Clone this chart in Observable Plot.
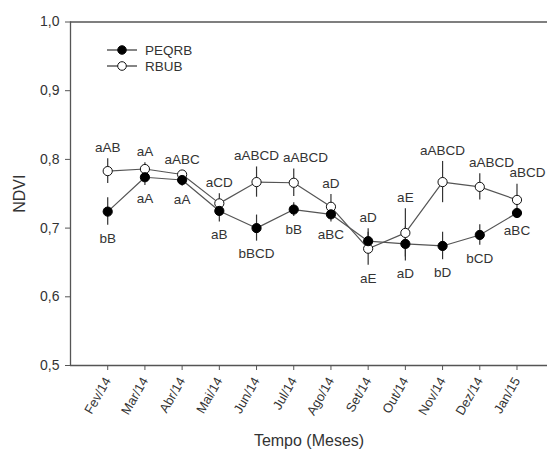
<!DOCTYPE html>
<html>
<head>
<meta charset="utf-8">
<script src="https://cdn.jsdelivr.net/npm/d3@7"></script>
<script src="https://cdn.jsdelivr.net/npm/@observablehq/plot@0.6"></script>
<style>
  body { margin: 0; background: #fff; }
  #wrap { position: relative; width: 547px; height: 450px; font-family: "Liberation Sans", Arial, sans-serif; }
  #legend { position: absolute; left: 0; top: 0; }
</style>
</head>
<body>
<div id="wrap"></div>
<script>
const months = ["Fev/14","Mar/14","Abr/14","Mai/14","Jun/14","Jul/14","Ago/14","Set/14","Out/14","Nov/14","Dez/14","Jan/15"];
const seriesNames = ["PEQRB", "RBUB"];
const peqrb    = [0.724, 0.774, 0.770, 0.725, 0.700, 0.727, 0.720, 0.681, 0.677, 0.674, 0.690, 0.722];
const peqrbErr = [0.020, 0.012, 0.009, 0.016, 0.019, 0.010, 0.011, 0.018, 0.025, 0.020, 0.015, 0.007];
const rbub     = [0.783, 0.786, 0.778, 0.736, 0.767, 0.766, 0.731, 0.670, 0.693, 0.767, 0.760, 0.741];
const rbubErr  = [0.018, 0.009, 0.006, 0.014, 0.022, 0.020, 0.018, 0.024, 0.035, 0.030, 0.019, 0.023];
const peqrbLetters = ["bB","aA","aA","aB","bBCD","bB","aBC","aD","aD","bD","bCD","aBC"];
const rbubLetters  = ["aAB","aA","aABC","aCD","aABCD","aABCD","aD","aE","aE","aABCD","aABCD","aBCD"];
const yTicks = [0.5, 0.6, 0.7, 0.8, 0.9, 1.0];

const FONT = "'Liberation Sans', Arial, sans-serif";
const W = 547, H = 450, ML = 70, MR = 0, MT = 21.5, MB = 85;
const xDomain = [0, 12.82], yDomain = [0.5, 1.0];
const LABEL_SIZE = 13.5, ABOVE_DY = -11, BELOW_DY = 13;

const rowsP = months.map((m, i) => ({x: i + 1, y: peqrb[i], e: peqrbErr[i], t: peqrbLetters[i], above: peqrb[i] > rbub[i]}));
const rowsR = months.map((m, i) => ({x: i + 1, y: rbub[i], e: rbubErr[i], t: rbubLetters[i], above: rbub[i] >= peqrb[i]}));

// letter labels: placed beyond the error bar end, nudged right if they would collide with the previous label
const xs = d3.scaleLinear(xDomain, [ML, W - MR]);
const ys = d3.scaleLinear(yDomain, [H - MB, MT]);
const ctx = document.createElement("canvas").getContext("2d");
ctx.font = `${LABEL_SIZE}px ${FONT}`;
const labels = rowsP.concat(rowsR)
  .map(d => ({x: d.x, y: d.above ? d.y + d.e : d.y - d.e, t: d.t, above: d.above}))
  .sort((a, b) => a.x - b.x);
const placed = [];
for (const L of labels) {
  const w = ctx.measureText(L.t).width;
  const py = ys(L.y) + (L.above ? ABOVE_DY : BELOW_DY);
  let cx = xs(L.x);
  for (const P of placed) {
    if (Math.abs(P.py - py) < LABEL_SIZE && cx - w / 2 < P.right + 4 && cx + w / 2 > P.left) {
      cx = P.right + 4 + w / 2;
    }
  }
  cx = Math.min(cx, W - 2 - w / 2);
  placed.push({py, left: cx - w / 2, right: cx + w / 2});
  L.xl = xs.invert(cx);
}

const axisColor = "#555";
const textColor = "#333";

const chart = Plot.plot({
  width: W,
  height: H,
  marginLeft: ML,
  marginRight: MR,
  marginTop: MT,
  marginBottom: MB,
  style: {fontFamily: FONT, color: textColor, background: "#fff"},
  x: {domain: xDomain},
  y: {domain: yDomain},
  marks: [
    Plot.ruleY([0.5, 1.0], {stroke: axisColor, strokeWidth: 1.3}),
    Plot.ruleX([0], {stroke: axisColor, strokeWidth: 1.3}),
    Plot.axisY({ticks: yTicks, tickFormat: d => d.toFixed(1).replace(".", ","), tickSize: 5, tickPadding: 6, fontSize: 14, stroke: axisColor, label: null, fill: textColor}),
    Plot.axisX({ticks: d3.range(1, 13), tickFormat: i => months[i - 1], tickSize: 5, tickPadding: 8, tickRotate: -60, fontSize: 13, stroke: axisColor, label: null, fill: textColor}),
    Plot.text(["NDVI"], {frameAnchor: "left", dx: -51, rotate: -90, fontSize: 16, fill: textColor, textAnchor: "middle"}),
    Plot.text(["Tempo (Meses)"], {frameAnchor: "bottom", dy: 80, fontSize: 16, fill: textColor, textAnchor: "middle"}),
    // error bars
    Plot.ruleX(rowsR, {x: "x", y1: d => d.y - d.e, y2: d => d.y + d.e, stroke: "#333", strokeWidth: 1.2}),
    Plot.ruleX(rowsP, {x: "x", y1: d => d.y - d.e, y2: d => d.y + d.e, stroke: "#333", strokeWidth: 1.2}),
    // lines
    Plot.line(rowsR, {x: "x", y: "y", stroke: "#555", strokeWidth: 1.2}),
    Plot.line(rowsP, {x: "x", y: "y", stroke: "#555", strokeWidth: 1.2}),
    // points
    Plot.dot(rowsR, {x: "x", y: "y", r: 4.6, fill: "#fff", stroke: "#111", strokeWidth: 1}),
    Plot.dot(rowsP, {x: "x", y: "y", r: 4.6, fill: "#000", stroke: "#000", strokeWidth: 1}),
    // letters
    Plot.text(labels.filter(d => d.above), {x: "xl", y: "y", text: "t", dy: ABOVE_DY, fontSize: LABEL_SIZE, fill: textColor, lineAnchor: "middle"}),
    Plot.text(labels.filter(d => !d.above), {x: "xl", y: "y", text: "t", dy: BELOW_DY, fontSize: LABEL_SIZE, fill: textColor, lineAnchor: "middle"})
  ]
});

const wrap = document.getElementById("wrap");
wrap.appendChild(chart);

// legend overlay (inside the frame, top-left)
const leg = d3.select(wrap).append("svg").attr("id", "legend").attr("width", W).attr("height", 100);
const legItems = leg.selectAll("g").data(seriesNames).join("g")
  .attr("transform", (d, i) => `translate(0, ${50 + i * 16})`);
legItems.append("line").attr("x1", 107).attr("x2", 137).attr("y1", 0).attr("y2", 0).attr("stroke", "#333").attr("stroke-width", 1.2);
legItems.append("circle").attr("cx", 122).attr("cy", 0).attr("r", 4.3)
  .attr("fill", (d, i) => i === 0 ? "#000" : "#fff").attr("stroke", "#111");
legItems.append("text").attr("x", 145).attr("y", 0).attr("dy", "0.35em")
  .attr("font-family", FONT).attr("font-size", 13.5).attr("fill", textColor).text(d => d);
</script>
</body>
</html>
